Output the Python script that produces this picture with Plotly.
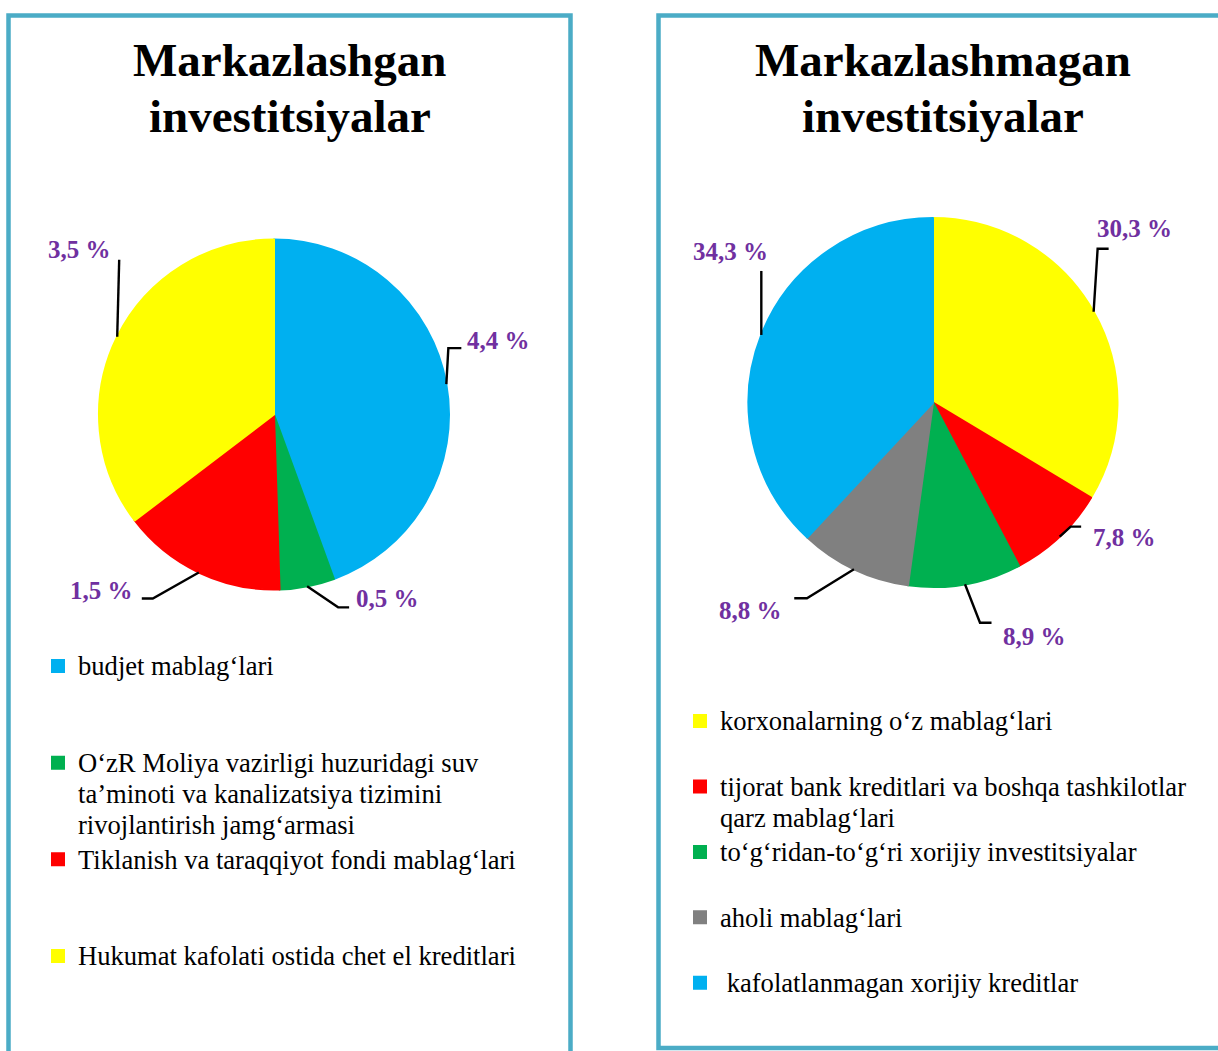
import math
import plotly.graph_objects as go

W, H = 1218, 1051

# ---------------- data ----------------
left_title = ["Markazlashgan", "investitsiyalar"]
left_labels = [
    "budjet mablag‘lari",
    "O‘zR Moliya vazirligi huzuridagi suv<br>ta’minoti va kanalizatsiya tizimini<br>rivojlantirish jamg‘armasi",
    "Tiklanish va taraqqiyot fondi mablag‘lari",
    "Hukumat kafolati ostida chet el kreditlari",
]
left_values = [4.4, 0.5, 1.5, 3.5]
left_colors = ["#00B0F0", "#00B050", "#FF0000", "#FFFF00"]

right_title = ["Markazlashmagan", "investitsiyalar"]
right_labels = [
    "korxonalarning o‘z mablag‘lari",
    "tijorat bank kreditlari va boshqa tashkilotlar<br>qarz mablag‘lari",
    "to‘g‘ridan-to‘g‘ri xorijiy investitsiyalar",
    "aholi mablag‘lari",
    "\u00a0kafolatlanmagan xorijiy kreditlar",
]
right_values = [30.3, 7.8, 8.9, 8.8, 34.3]
right_colors = ["#FFFF00", "#FF0000", "#00B050", "#808080", "#00B0F0"]

# ---------------- layout constants ----------------
FONT = "Liberation Serif"
PURPLE = "#7030A0"
BORDER = "#4BACC6"
LEGEND_GLYPH = 26.6  # visible glyph size
LEGEND_BASE = 24     # drives plotly's line pitch

# pie boxes in pixels: (x0, x1, y0, y1) top-down
left_box = (99, 449, 239.5, 589.5)
right_box = (748.5, 1117.5, 218, 587)

# leader geometry per slice: elbow offset from edge, horizontal run, label offset, anchor
left_leaders = [
    ((2, -36), 13, (4, -8), "left"),
    ((31, 21), 11, (5, -9), "left"),
    ((-46, 26), -11, (-7, -8), "right"),
    ((2, -77), 0, (-6, -10), "right"),
]
right_leaders = [
    ((4, -63), 11, (-14, -20), "left"),
    ((11, -10), 10.5, (9.5, 11), "left"),
    ((15, 38.5), 11.5, (9.5, 14), "left"),
    ((-47, 29), -12.7, (-10.7, 12.7), "right"),
    ((0, -64), 0, (9, -19), "right"),
]


def fx(x):
    return x / W


def fy(y):
    return 1 - y / H


def legend_text(labels, n):
    out = []
    for lab in labels:
        lines = lab.split("<br>")
        lines = [f"<span style='font-size:{LEGEND_GLYPH}px'>{ln}</span>" for ln in lines]
        lines += ["\u00a0"] * (n - len(lines))
        out.append("<br>".join(lines))
    return out


def fmt(v):
    return f"{v:.1f}".replace(".", ",") + " %"


fig = go.Figure()


def add_pie(labels, values, colors, box, legend_name, nlines):
    x0, x1, y0, y1 = box
    fig.add_trace(go.Pie(
        labels=legend_text(labels, nlines),
        values=values,
        sort=False,
        direction="clockwise",
        rotation=0,
        marker=dict(colors=colors, line=dict(color=colors, width=2)),
        textinfo="none",
        hoverinfo="skip",
        domain=dict(x=[fx(x0), fx(x1)], y=[fy(y1), fy(y0)]),
        legend=legend_name,
        showlegend=True,
    ))


def add_leaders(values, box, leaders):
    x0, x1, y0, y1 = box
    cx, cy = (x0 + x1) / 2, (y0 + y1) / 2
    r = min(x1 - x0, y1 - y0) / 2
    total = sum(values)
    cum = 0
    for v, (d, h, lo, anchor) in zip(values, leaders):
        mid = (cum + v / 2) / total * 2 * math.pi
        cum += v
        ex, ey = cx + r * math.sin(mid), cy - r * math.cos(mid)
        bx, by = ex + d[0], ey + d[1]
        hx = bx + h
        path = f"M{fx(ex)},{fy(ey)} L{fx(bx)},{fy(by)} L{fx(hx)},{fy(by)}"
        fig.add_shape(type="path", path=path, xref="paper", yref="paper",
                      line=dict(color="black", width=2.4))
        fig.add_annotation(x=fx(hx + lo[0]), y=fy(by + lo[1]), xref="paper", yref="paper",
                           text=f"<b>{fmt(v)}</b>", showarrow=False,
                           xanchor=anchor, yanchor="middle",
                           font=dict(family=FONT, size=25, color=PURPLE))


add_pie(left_labels, left_values, left_colors, left_box, "legend", 3)
add_pie(right_labels, right_values, right_colors, right_box, "legend2", 2)
add_leaders(left_values, left_box, left_leaders)
add_leaders(right_values, right_box, right_leaders)

# frames
fig.add_shape(type="rect", xref="paper", yref="paper",
              x0=fx(8.5), x1=fx(570.5), y0=fy(1080), y1=fy(15.5),
              line=dict(color=BORDER, width=4.5), layer="below")
fig.add_shape(type="rect", xref="paper", yref="paper",
              x0=fx(658.5), x1=fx(1240), y0=fy(1048), y1=fy(15.5),
              line=dict(color=BORDER, width=4.5), layer="below")

# titles
for lines, cxp in ((left_title, 289.5), (right_title, 942.5)):
    for i, t in enumerate(lines):
        fig.add_annotation(x=fx(cxp), y=fy(60.5 + 56 * i), xref="paper", yref="paper",
                           text=f"<b>{t}</b>", showarrow=False,
                           xanchor="center", yanchor="middle",
                           font=dict(family=FONT, size=47, color="black"))

legend_common = dict(
    xanchor="left", yanchor="top", valign="top",
    bgcolor="rgba(0,0,0,0)", borderwidth=0,
    font=dict(family=FONT, size=LEGEND_BASE, color="black"),
    tracegroupgap=0, traceorder="normal",
)

fig.update_layout(
    width=W, height=H,
    margin=dict(l=0, r=0, t=0, b=0),
    paper_bgcolor="white", plot_bgcolor="white",
    legend=dict(x=fx(38), y=fy(644), **legend_common),
    legend2=dict(x=fx(680), y=fy(699), **legend_common),
)

fig.write_html("out.html",
               config={"displayModeBar": False},
               post_script="document.body.style.margin='0';document.body.style.padding='0';")
